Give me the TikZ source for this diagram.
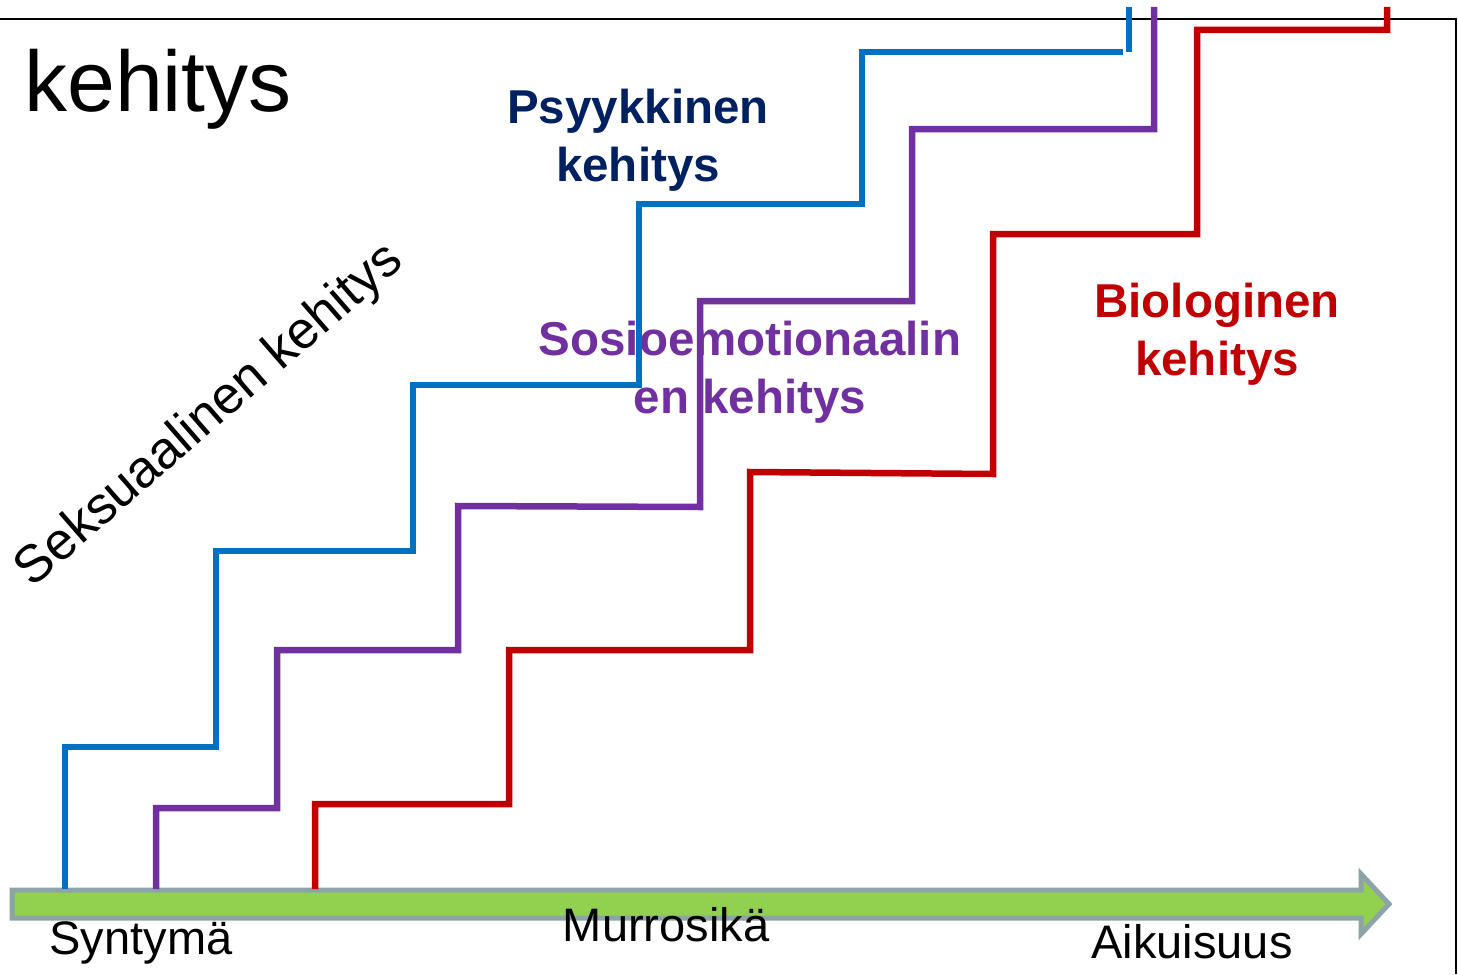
\documentclass[tikz,border=0pt]{standalone}
\usepackage{fontspec}
\setmainfont{Liberation Sans}
\definecolor{cblue}{HTML}{0070C0}
\definecolor{cpurple}{HTML}{7030A0}
\definecolor{cred}{HTML}{C00000}
\definecolor{cnavy}{HTML}{002060}
\definecolor{cgreen}{HTML}{92D050}
\definecolor{cgray}{HTML}{8CA4A8}
\begin{document}
\begin{tikzpicture}[x=1pt,y=-1pt,
  stair/.style={line width=6.5pt, line join=miter},
  lbl/.style={inner sep=0pt, align=center, font=\fontsize{47.5}{58}\selectfont\bfseries},
  axlbl/.style={inner sep=0pt, font=\fontsize{47}{55}\selectfont}]
\useasboundingbox (0,0) rectangle (1458,974);
% frame
\draw[line width=1.5pt] (0,19) -- (1456,19) -- (1456,974);
% axis arrow
\draw[line width=5pt, cgray, fill=cgreen, line join=miter]
  (12,890) -- (1361,890) -- (1361,874) -- (1389,904) -- (1361,934) -- (1361,918) -- (12,918) -- cycle;
% labels
\node[anchor=west, inner sep=0pt, font=\fontsize{86}{90}\selectfont] (title) at (24,89) {kehitys};
\node[lbl, text=cnavy] (psy) at (638,140) {Psyykkinen\\kehitys};
\node[lbl, text=cpurple] (sos) at (750,372) {Sosioemotionaalin\\en kehitys};
\node[lbl, text=cred] (bio) at (1217,334) {Biologinen\\kehitys};
\node[inner sep=0pt, rotate=41, font=\fontsize{52.5}{55}\selectfont] (seks) at (210,416) {Seksuaalinen kehitys};
\node[axlbl] (syn) at (141,943) {Syntymä};
\node[axlbl] (mur) at (666,925) {Murrosikä};
\node[axlbl] (aik) at (1192,942) {Aikuisuus};
% stairs
\draw[stair, cblue] (65,889) -- (65,747) -- (216,747) -- (216,551) -- (413,551) -- (413,385) -- (639,385) -- (639,204) -- (862,204) -- (862,52) -- (1123,52);
\draw[stair, cblue] (1129,52) -- (1129,7);
\draw[stair, cpurple] (156,889) -- (156,808) -- (277,808) -- (277,650) -- (458,650) -- (458,506) -- (700,507) -- (700,301) -- (912,301) -- (912,129) -- (1154,129) -- (1154,7);
\draw[stair, cred] (315,889) -- (315,804) -- (509,804) -- (509,650) -- (750,650) -- (750,472) -- (993,474) -- (993,234) -- (1197,234) -- (1197,30) -- (1387,30) -- (1387,7);
\end{tikzpicture}
\end{document}
